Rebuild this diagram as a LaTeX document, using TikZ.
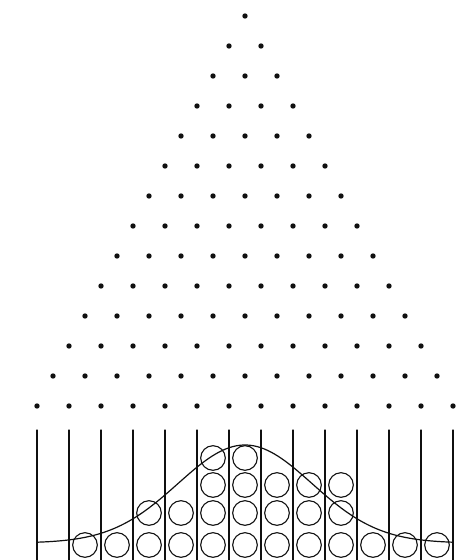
\documentclass[tikz,border=0pt]{standalone}
\newcommand{\Unit}{1pt}
\newcommand{\Rows}{14}
\newcommand{\Pitch}{32}
\newcommand{\RowGap}{30}
\newcommand{\Mid}{245}
\newcommand{\PinR}{2.7}
\newcommand{\BallR}{12.3}
\newcommand{\WallTop}{430}
\newcommand{\Spread}{67}
\definecolor{ink}{HTML}{101010}

\begin{document}
\begin{tikzpicture}[x=\Unit,y=-\Unit, line join=round, line cap=round]
  \useasboundingbox (0,0) rectangle (456,560);

  % ---- the pins -----------------------------------------------------------
  \foreach \r in {1,...,\Rows} {
    \foreach \i in {1,...,\r} {
      \fill[ink] ({\Mid+(\i-(\r+1)/2)*\Pitch},{16+(\r-1)*\RowGap}) circle (\PinR);
    }
  }

  % ---- the bins -----------------------------------------------------------
  \foreach \k in {0,...,13} {
    \draw[ink,line width=1.2pt] ({37+\k*\Pitch},\WallTop) -- ({37+\k*\Pitch},560);
  }

  % ---- the balls ----------------------------------------------------------
  % One list per layer, bottom first: bin numbers counted from the left.
  \foreach \y/\bins in {545/{2,...,13}, 513/{4,...,10}, 485/{6,...,10}, 458/{6,7}} {
    \foreach \b in \bins {
      \draw[ink,line width=1.1pt] ({53+(\b-1)*\Pitch},\y) circle (\BallR);
    }
  }

  % ---- the bell curve -----------------------------------------------------
  \draw[ink,line width=1.2pt,samples=120,domain=37:453,smooth]
    plot (\x,{543-98*exp(-0.5*((\x-\Mid)/\Spread)^2)});

\end{tikzpicture}
\end{document}
